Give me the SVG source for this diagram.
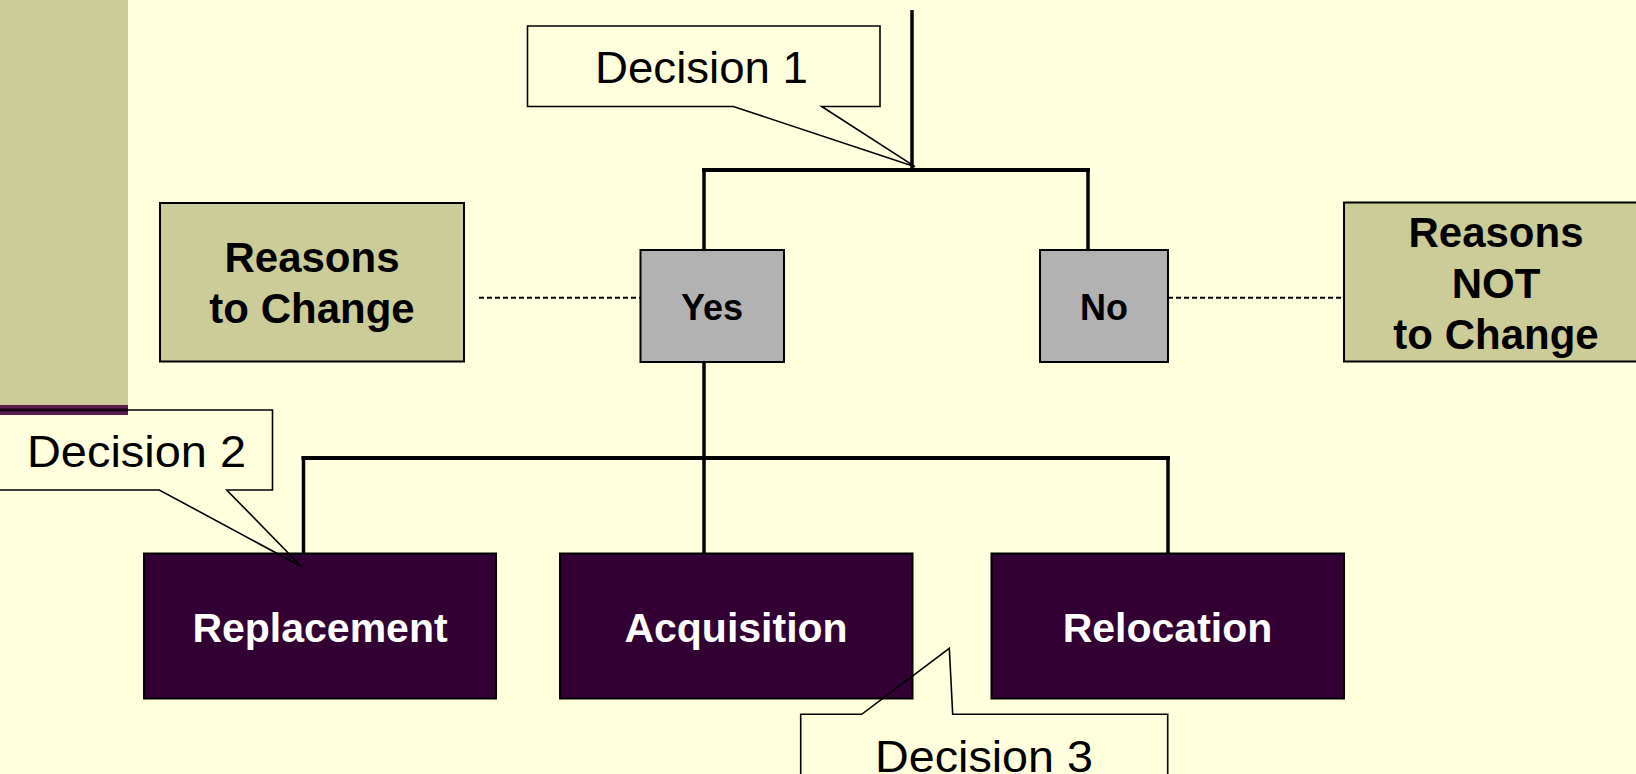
<svg xmlns="http://www.w3.org/2000/svg" width="1636" height="774" viewBox="0 0 1636 774">
<style>
.bg{fill:#FFFFDD}
.khaki{fill:#CCCC99;stroke:#000;stroke-width:2}
.gray{fill:#B2B2B2;stroke:#000;stroke-width:2}
.dark{fill:#330033;stroke:#000;stroke-width:2}
.co-fill{fill:#FFFFDD;stroke:none}
.co-line{fill:none;stroke:#000;stroke-width:1.6;stroke-linejoin:miter}
.t{font-family:"Liberation Sans",Arial,sans-serif;text-anchor:middle}
.lbl{font-size:45px;fill:#000}
.b{font-weight:bold;font-size:42px;fill:#000}
.s{font-weight:bold;font-size:36px;fill:#000}
.w{font-weight:bold;font-size:41px;fill:#FFFFFF}
.h{stroke:#000;stroke-width:4;fill:none}
.v{stroke:#000;stroke-width:3.5;fill:none}
.d{stroke:#000;stroke-width:2;stroke-dasharray:5,3;fill:none}
</style>
<rect class="bg" x="0" y="0" width="1636" height="774"/>

<!-- callout fills (under everything else) -->
<g id="callout-fills">
<path class="co-fill" d="M527.5,26 H880 V106.5 H821.7 L915,166.7 L733.3,106.5 H527.5 Z"/>
<path class="co-fill" d="M-2,410 H272.5 V490 H226.7 L301.7,566.7 L159.3,490 H-2 Z"/>
<path class="co-fill" d="M800.7,780 V714.3 H861.7 L949.3,648.3 L952.7,714.3 H1167.7 V780 Z"/>
</g>

<!-- sidebar -->
<g id="sidebar">
<rect x="0" y="0" width="128" height="405" fill="#CCCC99"/>
</g>

<g id="connectors">
<line class="v" x1="912" y1="10" x2="912" y2="170"/>
<line class="h" x1="702" y1="170" x2="1090" y2="170"/>
<line class="v" x1="704" y1="170" x2="704" y2="250"/>
<line class="v" x1="1088" y1="170" x2="1088" y2="250"/>
<line class="v" x1="704" y1="362" x2="704" y2="554"/>
<line class="h" x1="301.5" y1="458" x2="1170" y2="458"/>
<line class="v" x1="303.5" y1="456" x2="303.5" y2="554"/>
<line class="v" x1="1168" y1="456" x2="1168" y2="554"/>
<line class="d" x1="479" y1="297.7" x2="640" y2="297.7"/>
<line class="d" x1="1168" y1="297.7" x2="1344" y2="297.7"/>
</g>

<g id="reasons-to-change">
<rect class="khaki" x="160" y="203" width="304" height="158.5"/>
<text class="t b" x="312" y="271.7">Reasons</text>
<text class="t b" x="312" y="323.3">to Change</text>
</g>

<g id="yes">
<rect class="gray" x="640.5" y="250" width="143.5" height="112"/>
<text class="t s" x="712" y="320">Yes</text>
</g>

<g id="no">
<rect class="gray" x="1040" y="250" width="128" height="112"/>
<text class="t s" x="1104" y="319.5">No</text>
</g>

<g id="reasons-not-to-change">
<rect class="khaki" x="1344" y="202.5" width="310" height="159"/>
<text class="t b" x="1496" y="247">Reasons</text>
<text class="t b" x="1496" y="298">NOT</text>
<text class="t b" x="1496" y="348.5">to Change</text>
</g>

<g id="replacement">
<rect class="dark" x="144" y="553.5" width="352" height="145"/>
<text class="t w" x="320" y="641.7">Replacement</text>
</g>

<g id="acquisition">
<rect class="dark" x="560" y="553.5" width="352.5" height="145"/>
<text class="t w" x="736" y="641.7">Acquisition</text>
</g>

<g id="relocation">
<rect class="dark" x="991.5" y="553.5" width="352.5" height="145"/>
<text class="t w" x="1167.5" y="641.7">Relocation</text>
</g>

<g id="decision-1">
<path class="co-line" d="M527.5,26 H880 V106.5 H821.7 L915,166.7 L733.3,106.5 H527.5 Z"/>
<text class="t lbl" x="701.5" y="83.3" textLength="213" lengthAdjust="spacingAndGlyphs">Decision 1</text>
</g>

<g id="decision-2">
<path class="co-line" d="M-2,410 H272.5 V490 H226.7 L301.7,566.7 L159.3,490 H-2 Z"/>
<text class="t lbl" x="136.5" y="467.3" textLength="219" lengthAdjust="spacingAndGlyphs">Decision 2</text>
</g>

<g id="decision-3">
<path class="co-line" d="M800.7,780 V714.3 H861.7 L949.3,648.3 L952.7,714.3 H1167.7 V780"/>
<text class="t lbl" x="984" y="771.7" textLength="218" lengthAdjust="spacingAndGlyphs">Decision 3</text>
</g>

<!-- sidebar band drawn above callout 2 border -->
<g id="sidebar-band">
<rect x="0" y="405" width="128" height="10" fill="#5A1F4F"/>
<rect x="0" y="408.5" width="128" height="3" fill="#1A0014"/>
</g>
</svg>
